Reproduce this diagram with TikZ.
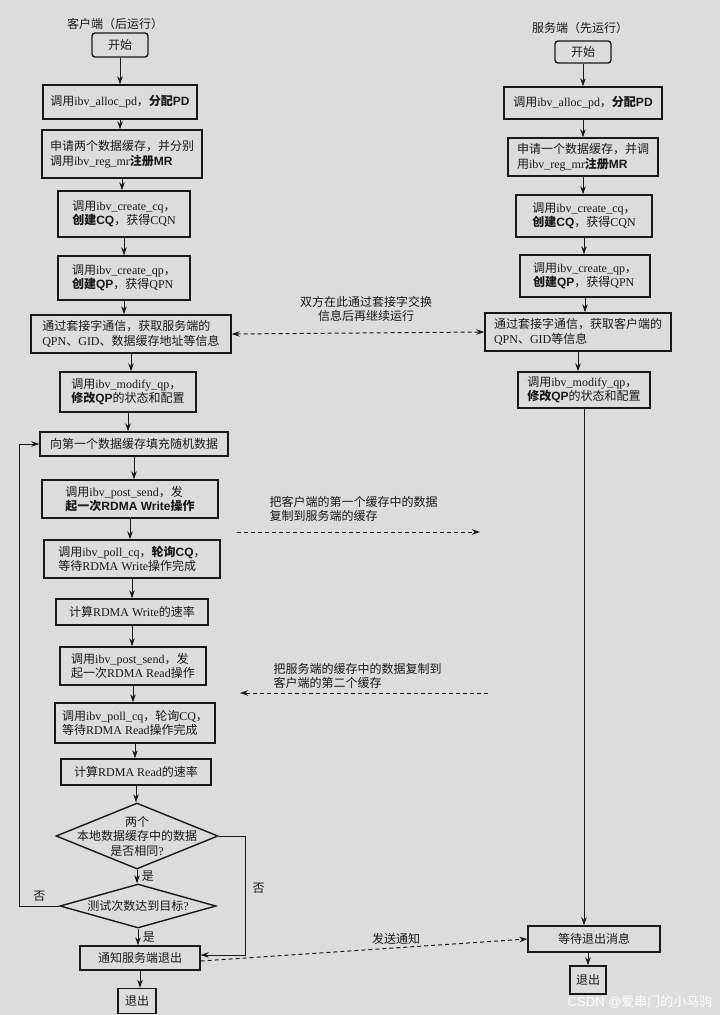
\documentclass[tikz,border=0pt]{standalone}
\usepackage{fontspec}
\setmainfont{Liberation Serif}
\setsansfont{Liberation Sans}
\newfontfamily\zhfont{Noto Sans CJK SC}
\usetikzlibrary{shapes.geometric,arrows.meta}
\newXeTeXintercharclass\zhcls
\newcount\zhi
\def\zhrange#1#2{\zhi=#1\relax\loop\XeTeXcharclass\zhi=\zhcls\ifnum\zhi<#2\advance\zhi by 1\repeat}
\zhrange{"3000}{"303F}
\zhrange{"4E00}{"9FFF}
\zhrange{"FF00}{"FFEF}
\XeTeXinterchartoks 0 \zhcls={\begingroup\zhfont}
\XeTeXinterchartoks 4095 \zhcls={\begingroup\zhfont}
\XeTeXinterchartoks \zhcls 0={\endgroup}
\XeTeXinterchartoks \zhcls 4095={\endgroup}
\XeTeXinterchartokenstate=1
\newcommand\bx[1]{{\sffamily\bfseries #1}}
\definecolor{paper}{RGB}{220,220,217}
\definecolor{ink}{RGB}{25,25,25}
\tikzset{
  box/.style={draw=ink, line width=1.4pt, inner xsep=5pt, inner ysep=3pt, align=left, text=ink,
    font=\fontsize{12}{14.5}\selectfont},
  rbox/.style={box, rounded corners=3pt, align=center},
  dia/.style={draw=ink, line width=1.4pt, shape=diamond, inner sep=0pt},
  lbl/.style={text=ink, font=\fontsize{12}{14.5}\selectfont},
  tip/.tip={Stealth[length=8pt,width=5.5pt]},
  arr/.style={draw=ink, line width=1pt, -tip},
  darr/.style={draw=ink, line width=1pt, dash pattern=on 4pt off 3pt, -tip},
}
\newcommand\vlink[2]{\draw[arr] (#1.south) -- (#1.south |- #2.north);}
\begin{document}
\begin{tikzpicture}[x=1pt,y=-1pt]
\fill[paper] (0,0) rectangle (720,1015);
\useasboundingbox (0,0) rectangle (720,1015);

% titles
\node[lbl] (tL) at (115,24) {客户端（后运行）};
\node[lbl] (tR) at (580,28) {服务端（先运行）};

% client column
\node[rbox, minimum width=56pt, minimum height=24pt] (S1) at (120,45) {开始};
\node[box, minimum width=154pt, minimum height=34pt] (L1) at (120,102) {调用ibv\_alloc\_pd，\bx{分配PD}};
\node[box, minimum width=160pt, minimum height=48pt] (L2) at (122,154) {申请两个数据缓存，并分别\\调用ibv\_reg\_mr\bx{注册MR}};
\node[box, minimum width=132pt, minimum height=46pt] (L3) at (124,214) {调用ibv\_create\_cq，\\\bx{创建CQ}，获得CQN};
\node[box, minimum width=132pt, minimum height=44pt] (L4) at (124,278) {调用ibv\_create\_qp，\\\bx{创建QP}，获得QPN};
\node[box, minimum width=200pt, minimum height=38pt] (L5) at (131,334) {通过套接字通信，获取服务端的\\QPN、GID、数据缓存地址等信息};
\node[box, minimum width=136pt, minimum height=40pt] (L6) at (128,392) {调用ibv\_modify\_qp，\\\bx{修改QP}的状态和配置};
\node[box, minimum width=188pt, minimum height=24pt] (L7) at (134,444) {向第一个数据缓存填充随机数据};
\node[box, minimum width=176pt, minimum height=38pt] (L8) at (130,499) {调用ibv\_post\_send，发\\\bx{起一次RDMA Write操作}};
\node[box, minimum width=176pt, minimum height=38pt] (L9) at (132,559) {调用ibv\_poll\_cq，\bx{轮询CQ}，\\等待RDMA Write操作完成};
\node[box, minimum width=152pt, minimum height=26pt] (L10) at (132,612) {计算RDMA Write的速率};
\node[box, minimum width=146pt, minimum height=38pt] (L11) at (133,666) {调用ibv\_post\_send，发\\起一次RDMA Read操作};
\node[box, minimum width=160pt, minimum height=40pt] (L12) at (135,723) {调用ibv\_poll\_cq，轮询CQ，\\等待RDMA Read操作完成};
\node[box, minimum width=150pt, minimum height=26pt] (L13) at (136,772) {计算RDMA Read的速率};
\node[dia, minimum width=162pt, minimum height=66pt] (D1) at (137,836) {};
\node[lbl, align=center] (D1t) at (D1) {两个\\本地数据缓存中的数据\\是否相同?};
\node[dia, minimum width=156pt, minimum height=44pt] (D2) at (138,906) {};
\node[lbl] (D2t) at (D2) {测试次数达到目标?};
\node[box, align=center, minimum width=120pt, minimum height=24pt] (L14) at (140,958) {通知服务端退出};
\node[box, align=center, minimum width=38pt, minimum height=25pt] (L15) at (137,1001) {退出};

% server column
\node[rbox, minimum width=56pt, minimum height=22pt] (S2) at (583,52) {开始};
\node[box, minimum width=158pt, minimum height=32pt] (R1) at (583,103) {调用ibv\_alloc\_pd，\bx{分配PD}};
\node[box, minimum width=150pt, minimum height=38pt] (R2) at (583,157) {申请一个数据缓存，并调\\用ibv\_reg\_mr\bx{注册MR}};
\node[box, minimum width=136pt, minimum height=42pt] (R3) at (584,216) {调用ibv\_create\_cq，\\\bx{创建CQ}，获得CQN};
\node[box, minimum width=130pt, minimum height=42pt] (R4) at (585,276) {调用ibv\_create\_qp，\\\bx{创建QP}，获得QPN};
\node[box, minimum width=186pt, minimum height=38pt] (R5) at (578,332) {通过套接字通信，获取客户端的\\QPN、GID等信息};
\node[box, minimum width=132pt, minimum height=36pt] (R6) at (584,390) {调用ibv\_modify\_qp，\\\bx{修改QP}的状态和配置};
\node[box, align=center, minimum width=132pt, minimum height=26pt] (R7) at (594,939) {等待退出消息};
\node[box, align=center, minimum width=36pt, minimum height=28pt] (R8) at (588,980) {退出};

% client flow
\vlink{S1}{L1}
\vlink{L1}{L2}
\vlink{L2}{L3}
\vlink{L3}{L4}
\vlink{L4}{L5}
\vlink{L5}{L6}
\vlink{L6}{L7}
\vlink{L7}{L8}
\vlink{L8}{L9}
\vlink{L9}{L10}
\vlink{L10}{L11}
\vlink{L11}{L12}
\vlink{L12}{L13}
\vlink{L13}{D1}
\draw[arr] (D1.south) -- (D1.south |- D2.north) node[lbl, midway, right=1pt] {是};
\draw[arr] (D2.south) -- (D2.south |- L14.north) node[lbl, midway, right=1pt] {是};
\vlink{L14}{L15}
\draw[arr] (D2.west) -- ++(-40,0) node[lbl, pos=0.5, above=1pt] {否} |- (L7.west);
\draw[arr] (D1.east) -- ++(27,0) |- ([yshift=3pt]L14.east) node[lbl, pos=0.22, right=3pt] {否};

% server flow
\vlink{S2}{R1}
\vlink{R1}{R2}
\vlink{R2}{R3}
\vlink{R3}{R4}
\vlink{R4}{R5}
\vlink{R5}{R6}
\vlink{R6}{R7}
\draw[arr] (R7.south -| R8.north) -- (R8.north);

% dashed exchanges
\draw[darr, tip-tip] (L5.east) -- (R5.west);
\node[lbl, align=center] (A1t) at (366,309) {双方在此通过套接字交换\\信息后再继续运行};

\coordinate (w1) at (237,532);
\coordinate (w2) at (480,532);
\draw[darr] (w1) -- (w2);
\node[lbl, align=left, anchor=west] (A2t) at (266,509) {把客户端的第一个缓存中的数据\\复制到服务端的缓存};

\coordinate (r1) at (488,693);
\coordinate (r2) at (240,693);
\draw[darr] (r1) -- (r2);
\node[lbl, align=left, anchor=west] (A3t) at (270,676) {把服务端的缓存中的数据复制到\\客户端的第二个缓存};

\draw[darr] ([yshift=-3pt]L14.east) -- (R7.west);
\node[lbl] (A4t) at (396,939) {发送通知};

% watermark
\node[text=white, font=\fontsize{13}{15}\sffamily, anchor=east] (wm) at (716,1002) {CSDN @爱串门的小马驹};
\end{tikzpicture}
\end{document}
